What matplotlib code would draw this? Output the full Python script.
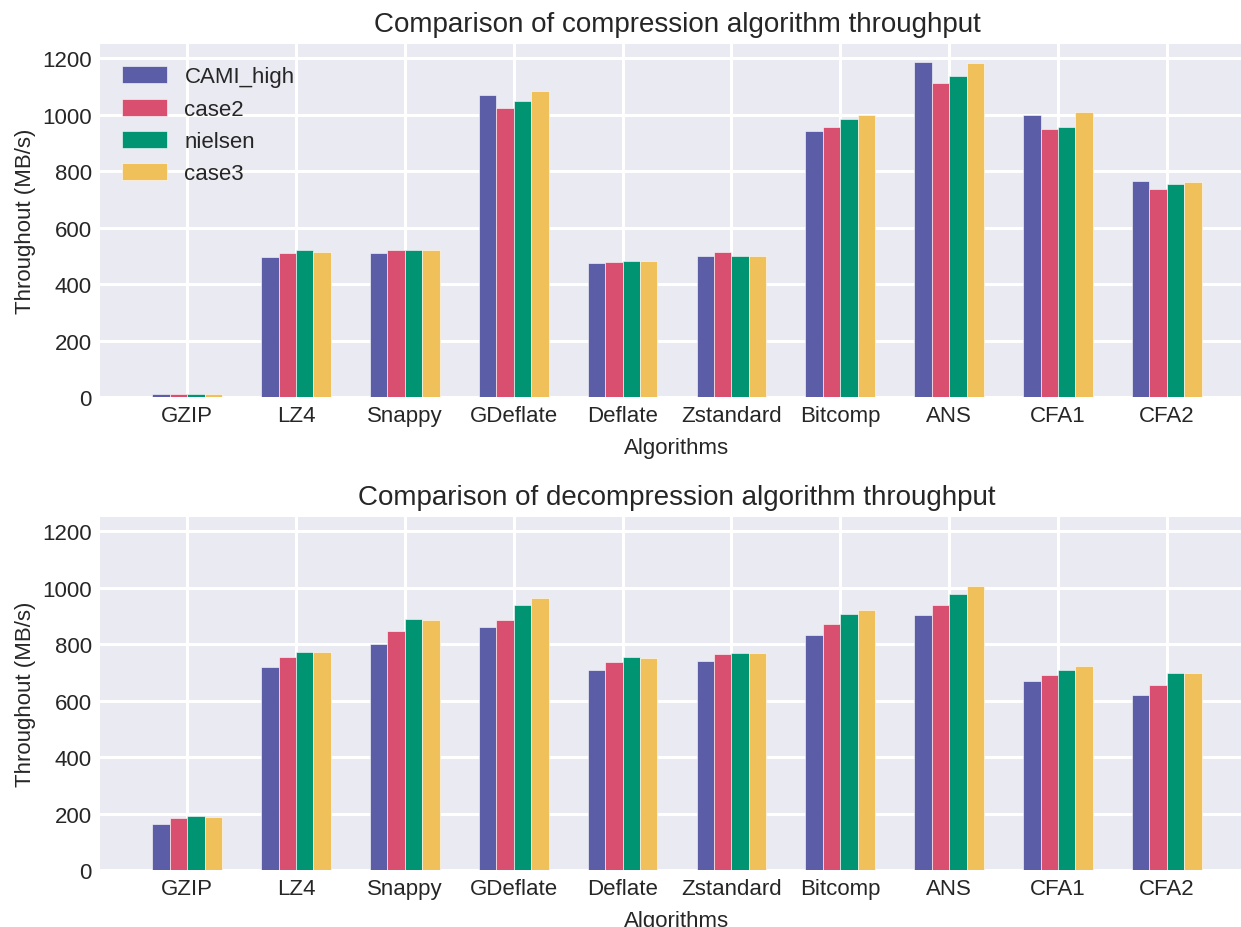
import matplotlib
matplotlib.use('Agg')
import matplotlib.pyplot as plt
import numpy as np

plt.style.use('seaborn-v0_8-darkgrid')
plt.rcParams['font.family'] = ['Liberation Sans', 'DejaVu Sans']

algorithms = ['GZIP', 'LZ4', 'Snappy', 'GDeflate', 'Deflate', 'Zstandard',
              'Bitcomp', 'ANS', 'CFA1', 'CFA2']
datasets = ['CAMI_high', 'case2', 'nielsen', 'case3']
colors = ['#5B5EA6', '#D94F70', '#009473', '#F0C05A']

# compression throughput (MB/s), one list per dataset
comp_cami = [10, 496, 510, 1069, 473, 498, 942, 1186, 998, 765]
comp_case2 = [10, 511, 521, 1024, 479, 514, 957, 1113, 949, 736]
comp_nielsen = [10, 519, 521, 1049, 483, 501, 983, 1137, 957, 756]
comp_case3 = [10, 514, 520, 1083, 480, 499, 998, 1181, 1008, 762]

# decompression throughput (MB/s)
decomp_cami = [164, 719, 800, 861, 709, 740, 832, 904, 668, 618]
decomp_case2 = [183, 754, 845, 887, 737, 766, 870, 940, 690, 654]
decomp_nielsen = [191, 773, 888, 937, 754, 767, 907, 977, 707, 696]
decomp_case3 = [188, 771, 887, 962, 752, 767, 920, 1004, 722, 697]

comp = [comp_cami, comp_case2, comp_nielsen, comp_case3]
decomp = [decomp_cami, decomp_case2, decomp_nielsen, decomp_case3]

fig = plt.figure(figsize=(12.41, 9.28), dpi=100)
ax1 = fig.add_axes([100/1241, 1 - 398/928, 1154/1241, 353/928])
ax2 = fig.add_axes([100/1241, 1 - 871/928, 1154/1241, 353/928])

x = np.arange(len(algorithms))
w = 0.16

def draw(ax, series, title, legend=False):
    for i, vals in enumerate(series):
        ax.bar(x + (i - 1.5)*w, vals, w, color=colors[i], label=datasets[i],
               edgecolor='white', linewidth=0.4)
    ax.set_title(title, fontsize=20, pad=9)
    ax.set_xlabel('Algorithms', fontsize=16, labelpad=7.5)
    ax.set_ylabel('Throughout (MB/s)', fontsize=16)
    ax.set_xticks(x)
    ax.set_xticklabels(algorithms)
    ax.tick_params(labelsize=16, pad=6)
    ax.set_ylim(0, 1250)
    ax.set_yticks(range(0, 1201, 200))
    ax.set_xlim(-0.8, 9.8)
    ax.grid(True, color='white', linewidth=2.2)
    ax.set_axisbelow(True)
    if legend:
        ax.legend(loc='upper left', fontsize=16, frameon=False,
                  borderaxespad=0.6, handleheight=0.8)

draw(ax1, comp, 'Comparison of compression algorithm throughput', legend=True)
draw(ax2, decomp, 'Comparison of decompression algorithm throughput')

fig.savefig('out.png', dpi=100)
